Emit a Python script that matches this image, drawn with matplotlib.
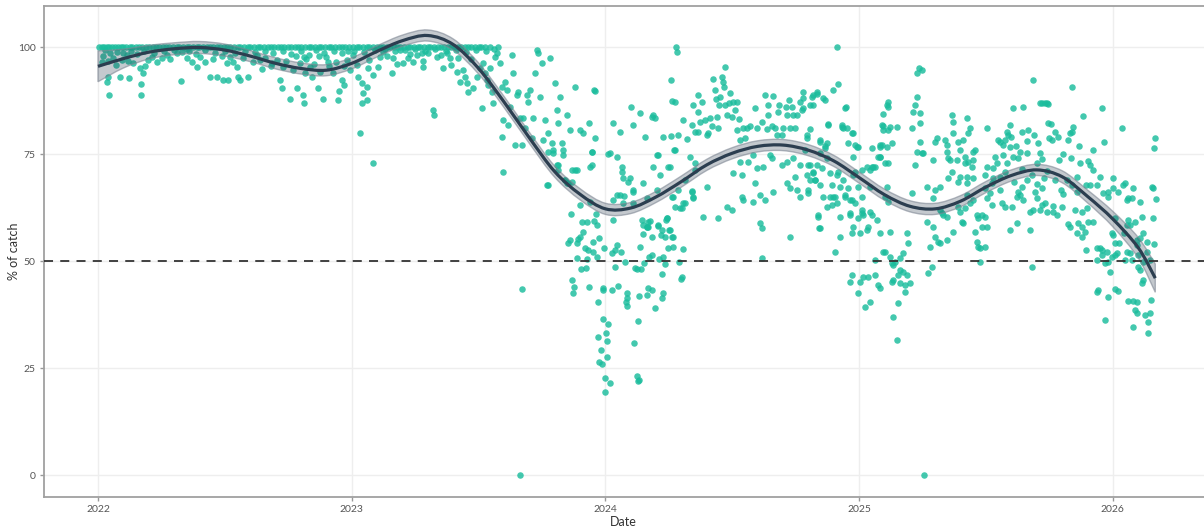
import matplotlib
matplotlib.use("Agg")
import matplotlib.pyplot as plt
from matplotlib.path import Path
from matplotlib.patches import PathPatch
import numpy as np

plt.rcParams['font.family'] = ['Lato', 'DejaVu Sans']

# ---------------- data (decimal year, % of catch) ----------------
top_2022 = [2022.005, 2022.015, 2022.025, 2022.035, 2022.045, 2022.055, 2022.068, 2022.08, 2022.09, 2022.10,
            2022.11, 2022.125, 2022.135, 2022.15, 2022.16, 2022.175, 2022.19, 2022.20, 2022.215, 2022.23,
            2022.24, 2022.255, 2022.27, 2022.28, 2022.295, 2022.31, 2022.32, 2022.335, 2022.35, 2022.36,
            2022.375, 2022.39, 2022.40, 2022.415, 2022.43, 2022.44, 2022.455, 2022.47, 2022.48, 2022.495,
            2022.51, 2022.52, 2022.535, 2022.55, 2022.56, 2022.575, 2022.59, 2022.60, 2022.615, 2022.63,
            2022.64, 2022.655, 2022.67, 2022.68, 2022.695, 2022.71, 2022.72, 2022.735, 2022.75, 2022.76,
            2022.775, 2022.79, 2022.80, 2022.815, 2022.83, 2022.84, 2022.855, 2022.87, 2022.88, 2022.895,
            2022.91, 2022.92, 2022.935, 2022.95, 2022.96, 2022.975, 2022.99]
top_2023 = [2023.005, 2023.02, 2023.03, 2023.045, 2023.06, 2023.07, 2023.085, 2023.10, 2023.11, 2023.125,
            2023.14, 2023.15, 2023.165, 2023.18, 2023.19, 2023.205, 2023.22, 2023.23, 2023.245, 2023.26,
            2023.27, 2023.285, 2023.30, 2023.31, 2023.325, 2023.34, 2023.35, 2023.365, 2023.38, 2023.39,
            2023.405, 2023.42, 2023.43, 2023.445, 2023.46, 2023.47, 2023.485, 2023.50, 2023.51, 2023.525,
            2023.545, 2023.575, 2024.278, 2024.913]

pts_2022 = [
    (2022.016, 96.5), (2022.028, 99.3), (2022.047, 98.6), (2022.075, 98.8), (2022.095, 97.0), (2022.114, 98.1),
    (2022.138, 96.3), (2022.166, 95.1), (2022.185, 95.6), (2022.177, 93.9), (2022.039, 93.0), (2022.035, 91.8),
    (2022.043, 88.8), (2022.087, 93.0), (2022.122, 92.8), (2022.169, 91.4), (2022.169, 88.8), (2022.197, 97.0),
    (2022.213, 97.7), (2022.233, 96.5), (2022.252, 97.4), (2022.272, 98.1), (2022.284, 97.2), (2022.311, 98.6),
    (2022.327, 92.1), (2022.351, 97.4), (2022.371, 96.5), (2022.390, 95.3), (2022.402, 97.7), (2022.422, 96.5),
    (2022.441, 93.0), (2022.469, 93.0), (2022.493, 92.3), (2022.512, 92.3), (2022.453, 97.2), (2022.489, 97.9),
    (2022.508, 96.3), (2022.532, 96.5), (2022.548, 95.3), (2022.552, 93.0), (2022.560, 92.3), (2022.591, 93.0),
    (2022.572, 97.4), (2022.611, 96.5), (2022.627, 98.1), (2022.646, 94.9), (2022.658, 97.4), (2022.686, 96.3),
    (2022.706, 97.0), (2022.717, 92.3), (2022.725, 90.4), (2022.729, 95.3), (2022.757, 87.9), (2022.769, 94.6),
    (2022.784, 90.4), (2022.796, 96.3), (2022.808, 88.8), (2022.812, 86.9), (2022.816, 93.9), (2022.836, 95.3),
    (2022.844, 93.0), (2022.867, 90.4), (2022.875, 94.2), (2022.887, 87.9), (2022.907, 96.5), (2022.926, 93.9),
    (2022.946, 87.6), (2022.950, 89.7), (2022.962, 92.3), (2022.970, 91.1), (2022.981, 97.0), (2022.993, 94.6),
    (2022.02, 98.0), (2022.06, 97.5), (2022.10, 98.5), (2022.13, 99.2), (2022.155, 98.3), (2022.18, 99.0),
    (2022.22, 98.6), (2022.26, 99.0), (2022.30, 99.4), (2022.33, 98.8), (2022.36, 99.2), (2022.385, 98.4),
    (2022.42, 99.3), (2022.46, 98.7), (2022.50, 99.1), (2022.54, 98.5), (2022.58, 99.0), (2022.62, 98.8),
    (2022.66, 99.2), (2022.69, 98.6), (2022.73, 99.0), (2022.76, 98.4), (2022.80, 99.1), (2022.83, 98.2),
    (2022.86, 99.3), (2022.89, 98.5), (2022.93, 99.0), (2022.96, 98.7), (2022.985, 99.2), (2022.04, 96.8),
    (2022.07, 95.9), (2022.12, 96.7), (2022.35, 99.6), (2022.52, 97.7), (2022.64, 97.0), (2022.68, 95.5),
    (2022.74, 96.7), (2022.78, 97.8), (2022.82, 97.3), (2022.85, 96.0), (2022.90, 97.6), (2022.94, 96.6),
    (2022.97, 95.5), (2022.81, 97.7), (2022.87, 98.0), (2022.91, 95.6),
]

pts_2023 = [
    (2023.004, 98.1), (2023.020, 95.8), (2023.024, 93.0), (2023.039, 91.6), (2023.043, 89.3), (2023.059, 90.7),
    (2023.059, 87.6), (2023.039, 86.9), (2023.032, 79.9), (2023.083, 72.9), (2023.063, 95.1), (2023.083, 93.5),
    (2023.102, 95.3), (2023.110, 97.7), (2023.122, 98.8), (2023.158, 93.9), (2023.162, 97.4), (2023.189, 99.3),
    (2023.201, 96.3), (2023.221, 97.4), (2023.240, 96.5), (2023.256, 98.1), (2023.276, 98.6), (2023.280, 96.7),
    (2023.300, 98.6), (2023.319, 85.3), (2023.323, 84.1), (2023.335, 97.7), (2023.359, 95.1), (2023.374, 98.6),
    (2023.386, 97.4), (2023.414, 94.2), (2023.426, 91.8), (2023.438, 94.6), (2023.445, 93.0), (2023.453, 91.6),
    (2023.457, 89.5), (2023.477, 90.4), (2023.493, 93.0), (2023.505, 95.1), (2023.512, 85.7), (2023.516, 96.3),
    (2023.524, 93.9), (2023.532, 92.3), (2023.536, 91.1), (2023.544, 95.1), (2023.552, 89.5), (2023.556, 86.9),
    (2023.564, 97.7), (2023.572, 98.6), (2023.583, 96.3), (2023.591, 90.7), (2023.591, 79.0), (2023.595, 82.9),
    (2023.595, 70.8), (2023.603, 91.8), (2023.611, 90.0), (2023.615, 81.8), (2023.623, 86.0), (2023.631, 98.1),
    (2023.635, 93.9), (2023.643, 77.1), (2023.650, 88.8), (2023.654, 89.5), (2023.662, 83.4), (2023.670, 77.1),
    (2023.674, 83.4), (2023.682, 81.1), (2023.690, 88.8), (2023.694, 87.1), (2023.702, 90.0), (2023.710, 78.7),
    (2023.714, 83.4), (2023.721, 93.9), (2023.729, 99.3), (2023.733, 98.6), (2023.741, 88.3), (2023.749, 96.3),
    (2023.753, 78.3), (2023.761, 82.9), (2023.769, 67.8), (2023.773, 79.9), (2023.781, 97.4), (2023.788, 77.6),
    (2023.792, 75.9), (2023.800, 91.6), (2023.808, 85.3), (2023.808, 72.4), (2023.812, 82.2), (2023.820, 88.3),
    (2023.828, 77.6), (2023.832, 74.8), (2023.840, 68.9), (2023.848, 84.1), (2023.852, 68.2), (2023.859, 80.6),
    (2023.867, 71.3), (2023.879, 90.7), (2023.887, 71.3), (2023.899, 80.6), (2023.911, 79.9), (2023.934, 82.2),
    (2023.938, 72.0), (2023.946, 75.5), (2023.958, 78.7), (2023.958, 89.7), (2023.954, 90.0),
    (2023.01, 99.0), (2023.05, 98.8), (2023.09, 99.3), (2023.13, 99.5), (2023.17, 99.0), (2023.21, 99.4),
    (2023.25, 99.6), (2023.29, 99.2), (2023.33, 99.5), (2023.37, 99.0), (2023.41, 99.3), (2023.45, 98.9),
    (2023.49, 99.4), (2023.53, 99.1), (2023.56, 99.5), (2023.14, 98.0), (2023.23, 98.3), (2023.35, 98.2),
    (2023.42, 97.5), (2023.47, 97.2), (2023.07, 97.0), (2023.18, 96.0), (2023.28, 95.3), (2023.39, 95.8),
    (2023.670, 43.5), (2023.662, 0.0),
    (2023.773, 75.5), (2023.812, 72.4), (2023.812, 71.3), (2023.773, 67.8), (2023.840, 68.9), (2023.848, 68.2),
    (2023.867, 68.5), (2023.879, 71.3), (2023.863, 61.0), (2023.907, 59.1), (2023.926, 59.1), (2023.911, 56.8),
    (2023.899, 55.6), (2023.891, 55.1), (2023.859, 54.9), (2023.852, 54.2), (2023.887, 54.2), (2023.919, 53.0),
    (2023.930, 52.6), (2023.950, 54.4), (2023.950, 52.1), (2023.966, 50.9), (2023.974, 55.4), (2023.966, 58.4),
    (2023.954, 59.3), (2023.962, 61.0), (2023.887, 50.7), (2023.926, 50.5), (2023.922, 48.4), (2023.903, 48.1),
    (2023.867, 45.6), (2023.875, 43.9), (2023.871, 42.5), (2023.934, 43.9), (2023.970, 40.4), (2023.970, 32.2),
    (2023.974, 26.4), (2023.946, 72.4), (2023.946, 75.5), (2023.792, 75.2), (2023.832, 75.9), (2023.938, 63.8),
    (2023.899, 63.1), (2023.982, 29.2), (2023.990, 43.2), (2023.990, 43.7), (2023.990, 36.4), (2023.994, 53.0),
    (2023.986, 25.9), (2023.998, 22.7), (2023.998, 19.4),
]

pts_2024 = [
    (2024.010, 75.0), (2024.026, 51.9), (2024.037, 52.6), (2024.045, 53.7), (2024.061, 52.1), (2024.077, 49.8),
    (2024.037, 48.6), (2024.026, 43.2), (2024.049, 44.2), (2024.085, 42.5), (2024.085, 41.4), (2024.081, 40.4),
    (2024.085, 39.5), (2024.010, 35.3), (2024.002, 33.2), (2024.006, 31.3), (2024.006, 27.6), (2024.018, 21.5),
    (2024.128, 36.0), (2024.112, 30.8), (2024.124, 23.1), (2024.128, 22.0), (2024.132, 22.2), (2024.132, 41.8),
    (2024.168, 43.7), (2024.183, 43.2), (2024.164, 42.1), (2024.223, 41.4), (2024.227, 42.5), (2024.195, 39.0),
    (2024.116, 48.4), (2024.124, 48.1), (2024.140, 48.1), (2024.152, 49.5), (2024.171, 50.9), (2024.183, 51.4),
    (2024.211, 50.5), (2024.227, 50.9), (2024.235, 49.3), (2024.223, 47.0), (2024.136, 53.3), (2024.246, 53.0),
    (2024.266, 53.3), (2024.305, 52.8), (2024.290, 49.8), (2024.302, 46.3), (2024.148, 56.3), (2024.168, 57.9),
    (2024.207, 58.2), (2024.183, 55.6), (2024.219, 56.1), (2024.235, 55.6), (2024.262, 55.6), (2024.250, 57.2),
    (2024.242, 60.0), (2024.238, 59.6), (2024.144, 59.6), (2024.148, 58.4), (2024.164, 57.9), (2024.175, 59.3),
    (2024.030, 59.6), (2024.148, 68.2), (2024.164, 64.7), (2024.203, 66.6), (2024.215, 70.1), (2024.187, 72.0),
    (2024.246, 72.0), (2024.203, 74.8), (2024.274, 75.9), (2024.073, 65.2), (2024.045, 65.4), (2024.057, 65.4),
    (2024.069, 63.6), (2024.108, 63.6), (2024.108, 66.1), (2024.030, 64.3), (2024.313, 63.6), (2024.302, 62.4),
    (2024.286, 66.6), (2024.266, 65.0), (2024.341, 66.4), (2024.345, 64.7), (2024.353, 71.3), (2024.333, 74.3),
    (2024.353, 72.9), (2024.313, 68.9), (2024.298, 45.8), (2024.018, 75.2), (2024.045, 74.3), (2024.065, 72.0),
    (2024.065, 70.8), (2024.097, 69.4), (2024.089, 68.5), (2024.108, 66.6), (2024.069, 69.4), (2024.030, 82.2),
    (2024.100, 86.0), (2024.108, 81.8), (2024.183, 83.6), (2024.195, 83.4), (2024.057, 80.1), (2024.136, 84.6),
    (2024.282, 98.8), (2024.258, 92.3), (2024.262, 87.4), (2024.274, 87.1), (2024.187, 84.1), (2024.156, 79.0),
    (2024.227, 79.0), (2024.258, 79.2), (2024.286, 79.4), (2024.270, 75.9), (2024.207, 74.8), (2024.254, 72.0),
    (2024.305, 82.9), (2024.321, 78.5), (2024.341, 81.8), (2024.345, 86.4), (2024.365, 88.8), (2024.365, 84.8),
    (2024.380, 87.1), (2024.353, 80.1), (2024.365, 80.1), (2024.373, 82.5), (2024.392, 82.9), (2024.400, 79.4),
    (2024.412, 83.4), (2024.404, 79.9), (2024.420, 81.5), (2024.424, 92.5), (2024.432, 90.0), (2024.436, 87.9),
    (2024.440, 83.6), (2024.443, 81.1), (2024.447, 86.4), (2024.459, 93.0), (2024.463, 91.8), (2024.467, 90.7),
    (2024.471, 95.3), (2024.451, 88.3), (2024.471, 86.4), (2024.479, 84.1), (2024.491, 89.3), (2024.487, 86.9),
    (2024.499, 83.6), (2024.503, 87.1), (2024.510, 85.3), (2024.518, 87.1), (2024.526, 83.2), (2024.518, 80.6),
    (2024.530, 78.3), (2024.542, 81.1), (2024.550, 78.7), (2024.558, 81.1), (2024.570, 81.5), (2024.589, 85.7),
    (2024.597, 81.1), (2024.617, 82.5), (2024.629, 88.8), (2024.637, 80.8), (2024.641, 86.4), (2024.641, 84.1),
    (2024.656, 81.5), (2024.660, 88.6), (2024.668, 81.1), (2024.676, 79.4), (2024.680, 84.8), (2024.684, 86.4),
    (2024.696, 79.4), (2024.700, 81.1), (2024.711, 86.0), (2024.715, 84.1), (2024.723, 87.6), (2024.727, 81.1),
    (2024.735, 86.0), (2024.739, 84.1), (2024.747, 81.1), (2024.755, 84.1), (2024.767, 87.1), (2024.778, 89.5),
    (2024.778, 85.7), (2024.794, 79.4), (2024.806, 80.8), (2024.814, 88.3), (2024.818, 86.4), (2024.834, 89.0),
    (2024.846, 78.3), (2024.857, 88.1), (2024.865, 76.9), (2024.877, 82.0), (2024.897, 90.0), (2024.917, 91.4),
    (2024.932, 81.3), (2024.944, 85.7), (2024.936, 81.1), (2024.972, 79.9), (2024.983, 77.1), (2024.991, 76.6),
    (2024.975, 74.3), (2024.538, 70.1), (2024.503, 70.6), (2024.530, 73.1), (2024.562, 73.1), (2024.581, 74.8),
    (2024.597, 71.7), (2024.621, 72.0), (2024.648, 74.8), (2024.656, 74.1), (2024.696, 72.4), (2024.715, 73.1),
    (2024.739, 74.1), (2024.767, 72.4), (2024.786, 75.9), (2024.794, 70.1), (2024.806, 72.4), (2024.818, 70.8),
    (2024.826, 68.9), (2024.846, 67.8), (2024.853, 71.7), (2024.873, 74.1), (2024.885, 70.6), (2024.893, 67.8),
    (2024.897, 65.0), (2024.917, 70.8), (2024.924, 67.3), (2024.936, 68.9), (2024.944, 65.4), (2024.956, 67.1),
    (2024.964, 64.3), (2024.975, 70.1), (2024.995, 67.3), (2024.975, 57.9), (2024.964, 61.2), (2024.972, 56.5),
    (2024.924, 55.6), (2024.924, 60.3), (2024.913, 63.6), (2024.873, 62.6), (2024.838, 60.3), (2024.846, 57.7),
    (2024.798, 65.9), (2024.767, 65.0), (2024.755, 66.6), (2024.727, 67.1), (2024.747, 69.6), (2024.715, 68.2),
    (2024.660, 66.1), (2024.629, 64.3), (2024.609, 65.4), (2024.589, 68.2), (2024.609, 58.9), (2024.617, 57.7),
    (2024.581, 63.8), (2024.542, 64.3), (2024.538, 65.0), (2024.499, 61.9), (2024.479, 62.6), (2024.443, 60.0),
    (2024.384, 60.3), (2024.400, 67.3), (2024.345, 65.0), (2024.341, 66.1), (2024.305, 63.6), (2024.294, 62.4),
    (2024.274, 62.6), (2024.262, 65.0), (2024.242, 60.0), (2024.207, 58.4), (2024.168, 59.1), (2024.164, 57.9),
    (2024.223, 57.2), (2024.254, 57.2), (2024.266, 55.6), (2024.727, 55.6), (2024.617, 50.7),
    (2024.778, 88.1), (2024.818, 88.8), (2024.834, 89.5), (2024.865, 87.6), (2024.806, 86.4), (2024.774, 85.3),
    (2024.877, 81.8), (2024.932, 81.8), (2024.952, 81.1), (2024.975, 79.9), (2024.948, 86.0), (2024.794, 78.7),
    (2024.846, 77.8), (2024.873, 77.6), (2024.865, 76.4), (2024.846, 75.2), (2024.834, 72.4), (2024.798, 72.4),
    (2024.818, 70.6), (2024.806, 68.9), (2024.826, 68.9), (2024.798, 66.6), (2024.857, 65.0), (2024.885, 65.0),
    (2024.893, 63.1), (2024.905, 65.0), (2024.913, 70.1), (2024.944, 65.0), (2024.972, 64.3), (2024.983, 63.6),
    (2024.983, 70.8), (2024.956, 77.6), (2024.995, 76.6), (2024.964, 60.7), (2024.995, 60.0), (2024.905, 52.1),
    (2024.838, 60.7), (2024.842, 57.7), (2024.972, 46.7), (2024.964, 45.1), (2024.995, 42.5),
]

pts_2025 = [
    (2025.012, 65.0), (2025.032, 72.0), (2025.043, 67.3), (2025.055, 72.0), (2025.083, 74.3), (2025.110, 67.3),
    (2025.102, 65.0), (2025.114, 63.8), (2025.071, 59.6), (2025.043, 61.4), (2025.012, 61.2), (2025.004, 56.5),
    (2025.012, 61.9), (2025.016, 60.7), (2025.051, 60.7), (2025.083, 56.5), (2025.122, 56.8), (2025.032, 57.2),
    (2025.035, 57.9), (2025.102, 52.1), (2025.130, 49.5), (2025.142, 49.8), (2025.162, 50.7), (2025.173, 51.9),
    (2025.162, 47.9), (2025.173, 47.4), (2025.154, 46.7), (2025.189, 46.7), (2025.193, 54.2), (2025.189, 56.5),
    (2025.004, 45.1), (2025.016, 46.3), (2025.035, 46.3), (2025.063, 46.7), (2025.075, 44.4), (2025.083, 43.7),
    (2025.024, 39.3), (2025.043, 40.4), (2025.063, 50.2), (2025.095, 52.1), (2025.130, 45.1), (2025.134, 45.6),
    (2025.162, 44.9), (2025.181, 44.4), (2025.181, 42.8), (2025.154, 40.2), (2025.134, 36.9), (2025.150, 31.5),
    (2025.122, 50.9), (2025.134, 49.1), (2025.201, 44.9), (2025.012, 71.3), (2025.051, 76.4), (2025.083, 77.1),
    (2025.083, 74.3), (2025.102, 72.9), (2025.114, 72.9), (2025.130, 77.6), (2025.122, 81.3), (2025.091, 81.8),
    (2025.150, 81.3), (2025.095, 84.3), (2025.110, 86.4), (2025.114, 87.1), (2025.051, 72.0), (2025.043, 71.3),
    (2025.075, 74.3), (2025.063, 72.0), (2025.083, 76.6), (2025.091, 77.1), (2025.095, 80.6), (2025.110, 76.6),
    (2025.114, 80.6), (2025.114, 86.0), (2025.095, 81.5),
    (2025.221, 86.4), (2025.229, 88.3), (2025.213, 84.8), (2025.240, 84.6), (2025.240, 82.2), (2025.209, 81.1),
    (2025.240, 77.8), (2025.229, 75.5), (2025.221, 72.4), (2025.248, 75.2), (2025.252, 75.2), (2025.268, 67.3),
    (2025.209, 65.9), (2025.268, 59.1), (2025.292, 64.7), (2025.300, 66.6), (2025.292, 73.6), (2025.307, 78.7),
    (2025.300, 77.8), (2025.319, 67.3), (2025.339, 78.3), (2025.347, 77.1), (2025.347, 75.5), (2025.351, 74.1),
    (2025.359, 73.6), (2025.367, 70.8), (2025.351, 69.4), (2025.319, 61.9), (2025.327, 61.2), (2025.331, 60.7),
    (2025.347, 60.3), (2025.292, 57.9), (2025.300, 55.6), (2025.311, 54.4), (2025.319, 54.2), (2025.288, 48.6),
    (2025.272, 47.2), (2025.280, 53.3), (2025.367, 84.1), (2025.370, 82.5), (2025.370, 79.9), (2025.390, 77.8),
    (2025.386, 73.6), (2025.390, 68.5), (2025.398, 69.6), (2025.390, 62.6), (2025.398, 61.4), (2025.406, 59.1),
    (2025.410, 58.9), (2025.370, 56.8), (2025.347, 54.9), (2025.426, 83.4), (2025.437, 81.1), (2025.430, 79.9),
    (2025.410, 78.3), (2025.398, 75.9), (2025.418, 74.3), (2025.418, 72.9), (2025.430, 73.1), (2025.426, 69.6),
    (2025.426, 68.2), (2025.426, 65.4), (2025.437, 63.6), (2025.418, 62.4), (2025.449, 64.3), (2025.457, 75.9),
    (2025.449, 75.5), (2025.449, 73.6), (2025.445, 72.0), (2025.449, 69.4), (2025.465, 60.7), (2025.469, 60.0),
    (2025.485, 60.7), (2025.465, 54.4), (2025.469, 53.3), (2025.477, 53.0), (2025.477, 49.8), (2025.496, 53.3),
    (2025.457, 56.8), (2025.496, 60.3), (2025.504, 57.9), (2025.485, 57.9), (2025.496, 70.1), (2025.504, 72.0),
    (2025.496, 67.1), (2025.504, 64.7), (2025.516, 65.9), (2025.524, 63.1), (2025.524, 68.2), (2025.528, 69.4),
    (2025.528, 71.7), (2025.536, 74.3), (2025.544, 72.9), (2025.548, 78.3), (2025.556, 77.8), (2025.567, 77.1),
    (2025.575, 78.3), (2025.583, 80.1), (2025.587, 79.4), (2025.595, 81.8), (2025.595, 76.6), (2025.567, 74.8),
    (2025.575, 70.8), (2025.583, 72.9), (2025.556, 69.6), (2025.556, 66.6), (2025.563, 63.6), (2025.575, 62.6),
    (2025.603, 62.6), (2025.595, 57.2), (2025.623, 58.9), (2025.627, 66.1), (2025.623, 65.0), (2025.634, 65.4),
    (2025.642, 67.3), (2025.646, 64.3), (2025.662, 75.2), (2025.634, 75.5), (2025.627, 74.1), (2025.607, 74.3),
    (2025.607, 85.7), (2025.646, 86.0), (2025.666, 80.6), (2025.674, 61.4), (2025.682, 48.6), (2025.674, 57.2),
    (2025.686, 61.9), (2025.694, 66.1), (2025.701, 64.7), (2025.705, 77.6), (2025.713, 75.2), (2025.721, 86.9),
    (2025.741, 86.9), (2025.745, 82.2), (2025.749, 78.7), (2025.721, 63.1), (2025.733, 63.6), (2025.741, 61.4),
    (2025.713, 61.9), (2025.721, 67.1), (2025.686, 92.3), (2025.713, 86.9), (2025.733, 86.9), (2025.745, 86.7),
    (2025.504, 81.1), (2025.236, 95.1), (2025.248, 94.6), (2025.229, 93.9), (2025.256, 0.0),
    (2025.60, 79.0), (2025.62, 76.9), (2025.64, 80.1), (2025.66, 78.0), (2025.69, 79.4), (2025.70, 72.9),
    (2025.72, 73.8), (2025.74, 71.0), (2025.68, 70.0), (2025.66, 69.0), (2025.64, 71.5), (2025.61, 68.5),
    (2025.70, 68.0), (2025.73, 69.5),
    (2025.839, 90.7), (2025.883, 83.9), (2025.958, 85.7), (2025.757, 82.0), (2025.784, 79.0), (2025.761, 78.3),
    (2025.772, 80.1), (2025.824, 78.3), (2025.832, 79.9), (2025.843, 81.3), (2025.839, 80.1), (2025.867, 76.9),
    (2025.922, 75.9), (2025.965, 77.8), (2025.804, 75.0), (2025.788, 73.6), (2025.836, 74.1), (2025.871, 72.9),
    (2025.902, 73.4), (2025.910, 72.4), (2025.922, 71.3), (2025.950, 69.6), (2025.938, 67.8), (2025.910, 67.8),
    (2025.895, 67.8), (2025.859, 69.6), (2025.820, 68.9), (2025.839, 67.8), (2025.796, 66.6), (2025.804, 65.7),
    (2025.772, 68.9), (2025.765, 62.9), (2025.800, 62.6), (2025.780, 60.7), (2025.765, 61.4), (2025.859, 66.1),
    (2025.851, 61.9), (2025.879, 61.4), (2025.898, 62.4), (2025.922, 59.1), (2025.902, 59.1), (2025.891, 56.8),
    (2025.879, 57.9), (2025.863, 58.9), (2025.879, 55.6), (2025.832, 57.9), (2025.824, 58.6), (2025.859, 56.5),
    (2025.895, 52.6), (2025.938, 53.0), (2025.950, 53.0), (2025.958, 52.6), (2025.977, 52.1), (2025.958, 51.4),
    (2025.938, 50.2), (2025.969, 49.5), (2025.981, 49.8), (2025.989, 47.4), (2025.997, 50.9), (2025.997, 56.5),
    (2025.962, 65.9), (2025.981, 65.0), (2025.981, 66.1), (2025.942, 43.2), (2025.938, 42.8), (2025.981, 41.6),
    (2025.969, 36.2),
]

pts_2026 = [
    (2026.035, 81.1), (2026.008, 51.4), (2026.016, 51.9), (2026.000, 56.1), (2026.008, 54.2), (2026.024, 54.2),
    (2026.008, 60.0), (2026.000, 67.1), (2026.000, 69.4), (2026.020, 66.1), (2026.039, 67.8), (2026.047, 68.2),
    (2026.079, 67.1), (2026.055, 64.3), (2026.059, 64.7), (2026.075, 64.7), (2026.106, 63.8), (2026.114, 60.3),
    (2026.166, 78.7), (2026.162, 76.4), (2026.154, 67.3), (2026.158, 67.1), (2026.170, 64.5), (2026.158, 60.0),
    (2026.162, 54.0), (2026.134, 52.1), (2026.118, 56.5), (2026.106, 55.4), (2026.134, 54.4), (2026.095, 54.9),
    (2026.059, 59.6), (2026.055, 58.4), (2026.067, 58.4), (2026.087, 59.1), (2026.043, 56.5), (2026.055, 52.1),
    (2026.067, 51.9), (2026.095, 53.7), (2026.047, 50.2), (2026.075, 50.2), (2026.099, 51.4), (2026.099, 48.6),
    (2026.118, 49.8), (2026.146, 50.2), (2026.106, 47.9), (2026.118, 45.6), (2026.114, 44.9), (2026.008, 43.5),
    (2026.020, 43.0), (2026.059, 40.7), (2026.079, 40.7), (2026.095, 40.4), (2026.087, 38.6), (2026.095, 37.9),
    (2026.079, 34.6), (2026.126, 37.4), (2026.146, 37.9), (2026.138, 35.7), (2026.138, 33.2), (2026.150, 40.9),
]

# smoothed trend and half-width of its confidence band
trend_x = [2022.0, 2022.1, 2022.2, 2022.3, 2022.4, 2022.5, 2022.6, 2022.7, 2022.8, 2022.9,
           2023.0, 2023.1, 2023.2, 2023.3, 2023.4, 2023.5, 2023.6, 2023.7, 2023.8, 2023.9,
           2024.0, 2024.1, 2024.2, 2024.3, 2024.4, 2024.5, 2024.6, 2024.7, 2024.8, 2024.9,
           2025.0, 2025.1, 2025.2, 2025.3, 2025.4, 2025.5, 2025.6, 2025.7, 2025.8, 2025.9,
           2026.0, 2026.1, 2026.167]
trend_y = [95.5, 97.3, 98.8, 99.6, 99.9, 99.3, 97.9, 96.2, 95.0, 94.6,
           96.2, 99.0, 101.5, 102.7, 100.6, 95.0, 87.2, 78.8, 70.9, 65.6,
           62.2, 62.4, 65.0, 68.6, 72.5, 75.2, 76.8, 77.1, 75.9, 73.4,
           69.5, 65.5, 62.8, 62.2, 64.0, 67.3, 70.0, 71.3, 69.7, 65.1,
           59.8, 53.1, 46.0]
trend_se = [3.6, 2.2, 1.6, 1.4, 1.4, 1.4, 1.3, 1.3, 1.3, 1.3,
            1.3, 1.3, 1.3, 1.3, 1.3, 1.3, 1.3, 1.3, 1.3, 1.3,
            1.3, 1.3, 1.3, 1.3, 1.3, 1.3, 1.3, 1.3, 1.3, 1.3,
            1.3, 1.3, 1.3, 1.3, 1.3, 1.3, 1.3, 1.3, 1.4, 1.5,
            1.8, 2.4, 3.3]

ref_value = 50
x_ticks = [2022, 2023, 2024, 2025, 2026]
x_ticklabels = ["2022", "2023", "2024", "2025", "2026"]
y_ticks = [0, 25, 50, 75, 100]


def smooth_path_vertices(xs, ys):
    """Catmull-Rom knots -> cubic Bezier vertices (drawn by matplotlib's Path)."""
    xs = np.asarray(xs, float)
    ys = np.asarray(ys, float)
    P = np.column_stack([xs, ys])
    n = len(P)
    verts = [P[0]]
    codes = [Path.MOVETO]
    for i in range(n - 1):
        p0 = P[i - 1] if i > 0 else P[i]
        p1 = P[i]
        p2 = P[i + 1]
        p3 = P[i + 2] if i + 2 < n else P[i + 1]
        c1 = p1 + (p2 - p0) / 6.0
        c2 = p2 - (p3 - p1) / 6.0
        verts += [c1, c2, p2]
        codes += [Path.CURVE4] * 3
    return np.array(verts), codes


# ---------------- plot ----------------
fig = plt.figure(figsize=(12.04, 5.26), dpi=100)
ax = fig.add_axes([0.0365, 0.0551, 0.9635, 0.9335])

px = [v for v in top_2022 + top_2023]
py = [100.0] * len(px)
for lst in (pts_2022, pts_2023, pts_2024, pts_2025, pts_2026):
    px += [p[0] for p in lst]
    py += [p[1] for p in lst]

ax.scatter(px, py, s=22, color='#1abc9c', alpha=0.82, linewidths=0, zorder=3)

tx = np.array(trend_x)
ty = np.array(trend_y)
ts = np.array(trend_se)

up_v, up_c = smooth_path_vertices(tx, ty + ts)
lo_v, lo_c = smooth_path_vertices(tx[::-1], (ty - ts)[::-1])
band_verts = np.vstack([up_v, lo_v, up_v[:1]])
band_codes = up_c + [Path.LINETO] + lo_c[1:] + [Path.CLOSEPOLY]
ax.add_patch(PathPatch(Path(band_verts, band_codes), facecolor='#2c3e50', alpha=0.28,
                       edgecolor='none', zorder=4))
ax.add_patch(PathPatch(Path(band_verts, band_codes), facecolor='none', edgecolor='#7f8794',
                       alpha=0.6, lw=1.0, zorder=4))

mid_v, mid_c = smooth_path_vertices(tx, ty)
ax.add_patch(PathPatch(Path(mid_v, mid_c), facecolor='none', edgecolor='#2c3e50', lw=2.3,
                       zorder=5, capstyle='butt'))

ax.axhline(ref_value, color='#333333', lw=1.3, dashes=(5, 4), zorder=6)

ax.set_xlim(2021.787, 2026.359)
ax.set_ylim(-5.14, 109.6)
ax.set_xticks(x_ticks)
ax.set_xticklabels(x_ticklabels)
ax.set_yticks(y_ticks)

ax.grid(True, color='#eeeeee', lw=1.0, zorder=0)
ax.set_axisbelow(True)

for side in ('left', 'top', 'bottom'):
    ax.spines[side].set_color('#a0a0a0')
    ax.spines[side].set_linewidth(1.3)
ax.spines['right'].set_visible(False)

ax.tick_params(axis='both', colors='#999999', labelcolor='#555555', labelsize=7.5,
               length=3, width=1, pad=3)

fig.text(623 / 1204, 1 - 522 / 526, 'Date', ha='center', va='center', fontsize=9, color='#333333')
fig.text(14 / 1204, 1 - 251 / 526, '% of catch', ha='center', va='center', rotation=90,
         fontsize=9, color='#333333')

fig.savefig('out.png', dpi=100)
